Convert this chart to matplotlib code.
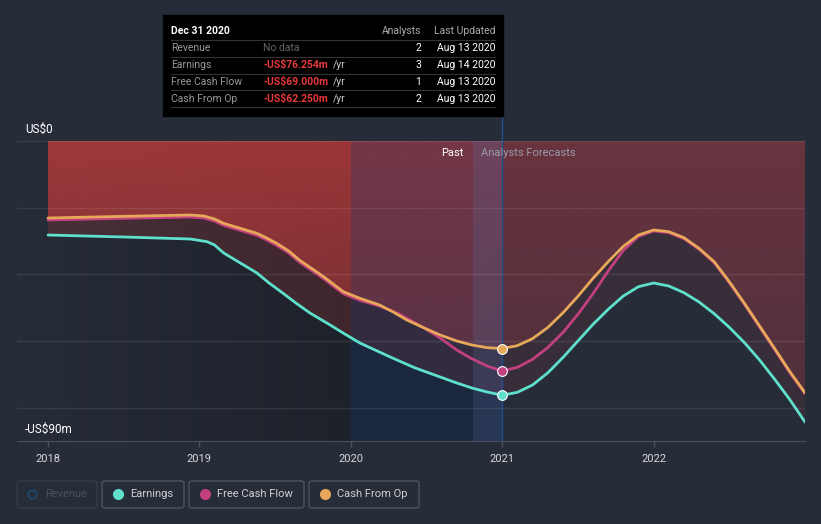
import numpy as np
import matplotlib.pyplot as plt
from matplotlib.patches import FancyBboxPatch
from matplotlib.colors import to_rgb

plt.rcParams['font.family'] = ['Roboto', 'DejaVu Sans']

earn_x = [2018.00, 2018.50, 2018.94, 2019.05, 2019.10, 2019.16, 2019.27, 2019.38, 2019.46,
          2019.55, 2019.64, 2019.73, 2019.86, 2019.96, 2020.06, 2020.16, 2020.26, 2020.42,
          2020.59, 2020.70, 2020.80, 2020.90, 2021.00,
          2021.10, 2021.20, 2021.30, 2021.40, 2021.50, 2021.60, 2021.70, 2021.80, 2021.90,
          2022.00, 2022.10, 2022.20, 2022.30, 2022.40, 2022.50, 2022.60, 2022.70, 2022.80,
          2022.90, 2023.00]
earn_y = [-28.2, -28.8, -29.4, -30.2, -31.2, -33.6, -36.6, -39.6, -42.6,
          -45.6, -48.7, -51.6, -55.1, -57.9, -60.6, -62.7, -64.8, -68.0,
          -70.8, -72.6, -74.1, -75.3, -76.254,
          -75.4, -73.2, -69.6, -65.0, -60.0, -55.0, -50.5, -46.5, -43.7,
          -42.6, -43.5, -45.5, -48.3, -51.8, -55.9, -60.5, -65.7, -71.5,
          -77.6, -84.3]

cfo_x = [2018.00, 2018.50, 2018.94, 2019.03, 2019.10, 2019.16, 2019.27, 2019.38, 2019.44,
         2019.51, 2019.59, 2019.66, 2019.74, 2019.82, 2019.95, 2020.06, 2020.19, 2020.28,
         2020.37, 2020.48, 2020.59, 2020.70, 2020.80, 2020.90, 2021.00,
         2021.10, 2021.20, 2021.30, 2021.40, 2021.50, 2021.60, 2021.70, 2021.80, 2021.90,
         2022.00, 2022.10, 2022.20, 2022.30, 2022.40, 2022.50, 2022.60, 2022.70, 2022.80,
         2022.90, 2023.00]
cfo_y = [-23.1, -22.6, -22.2, -22.5, -23.4, -24.7, -26.2, -27.7, -29.0,
         -30.7, -33.0, -35.7, -38.2, -40.7, -45.2, -47.2, -49.2, -51.3,
         -53.7, -56.0, -58.2, -60.0, -61.2, -62.0, -62.25,
         -61.4, -59.3, -56.0, -51.6, -46.6, -41.2, -36.2, -31.6, -28.2,
         -26.7, -27.2, -29.0, -32.2, -36.2, -42.2, -48.7, -55.5, -62.3,
         -69.2, -75.5]

fcf_x = [2018.00, 2018.50, 2018.94, 2019.03, 2019.10, 2019.16, 2019.27, 2019.38, 2019.44,
         2019.51, 2019.59, 2019.66, 2019.74, 2019.82, 2019.95, 2020.06, 2020.19, 2020.32,
         2020.47, 2020.59, 2020.70, 2020.79, 2020.90, 2021.00,
         2021.10, 2021.20, 2021.30, 2021.40, 2021.50, 2021.60, 2021.70, 2021.80, 2021.90,
         2022.00, 2022.10, 2022.20, 2022.30, 2022.40, 2022.50, 2022.60, 2022.70, 2022.80,
         2022.90, 2023.00]
fcf_y = [-23.7, -23.2, -22.8, -23.1, -24.0, -25.3, -26.8, -28.3, -29.6,
         -31.3, -33.6, -36.3, -38.8, -41.3, -45.8, -47.8, -49.5, -51.9,
         -55.7, -59.1, -62.7, -65.1, -67.5, -69.0,
         -67.9, -65.5, -62.0, -57.5, -52.0, -45.8, -39.0, -32.8, -28.6,
         -27.0, -27.5, -29.3, -32.5, -36.5, -42.5, -49.0, -55.8, -62.6,
         -69.5, -75.8]

years = [2018, 2019, 2020, 2021, 2022]

tip_rows = ['Revenue', 'Earnings', 'Free Cash Flow', 'Cash From Op']
tip_values = ['No data', '-US$76.254m', '-US$69.000m', '-US$62.250m']
tip_analysts = ['2', '3', '1', '2']
tip_updated = ['Aug 13 2020', 'Aug 14 2020', 'Aug 13 2020', 'Aug 13 2020']

BG = '#262c38'
C_EARN = '#5ee0cc'
C_FCF = '#c2407f'
C_CFO = '#e8a85a'
RED = '#c03c3c'


def gradient(ax, extent, color, a0, a1, vertical=True, clip=None, z=1):
    n = 256
    rgb = to_rgb(color)
    if vertical:
        arr = np.zeros((n, 1, 4))
        arr[:, 0, :3] = rgb
        arr[:, 0, 3] = np.linspace(a0, a1, n)
    else:
        arr = np.zeros((1, n, 4))
        arr[0, :, :3] = rgb
        arr[0, :, 3] = np.linspace(a0, a1, n)
    im = ax.imshow(arr, extent=extent, aspect='auto', origin='upper',
                   interpolation='bilinear', zorder=z)
    if clip is not None:
        im.set_clip_path(clip, transform=ax.transData)
    return im


def band(ax, xa, ya, xb, yb, lo, hi, **kw):
    # polygon between two lines over [lo, hi]
    xa, ya, xb, yb = map(np.asarray, (xa, ya, xb, yb))
    ma = (xa >= lo) & (xa <= hi)
    mb = (xb >= lo) & (xb <= hi)
    px = np.concatenate([xa[ma], xb[mb][::-1]])
    py = np.concatenate([ya[ma], yb[mb][::-1]])
    return ax.fill(px, py, **kw)


fig = plt.figure(figsize=(8.21, 5.24), dpi=100, facecolor=BG)
ax = fig.add_axes([17 / 821, 1 - 441 / 524, 788 / 821, 300 / 524])
ax.set_facecolor(BG)
ax.set_xlim(2017.795, 2023.0)
ax.set_ylim(-90, 0)

# darker past background
gradient(ax, [2017.795, 2020, -90, 0], '#000000', 0.0, 0.25, vertical=False, z=0.5)
ax.axvspan(2020, 2021, color='#000000', alpha=0.25, lw=0, zorder=0.5)

# red fills from zero down to the top line
cx = np.array(cfo_x)
cy = np.array(cfo_y)
past = cx <= 2021
fut = cx >= 2021
p1 = ax.fill_between(cx[past], cy[past], 0, facecolor='none', edgecolor='none')
gradient(ax, [2018, 2021, -65, 0], RED, 0.78, 0.55, clip=p1.get_paths()[0], z=1)
p2 = ax.fill_between(cx[fut], cy[fut], 0, facecolor='none', edgecolor='none')
gradient(ax, [2021, 2023, -80, 0], '#a03a45', 0.55, 0.35, clip=p2.get_paths()[0], z=1)

# fill between top and bottom line
band(ax, cfo_x, cfo_y, earn_x, earn_y, 2018, 2021, color=RED, alpha=0.22, lw=0, zorder=1)
band(ax, cfo_x, cfo_y, earn_x, earn_y, 2021, 2023, color='#a03a45', alpha=0.15, lw=0, zorder=1)

# past highlight bands
ax.axvspan(2020, 2021, color='#1a3a6e', alpha=0.3, lw=0, zorder=1.5)
ax.axvspan(2020.805, 2021, color='#5a74a8', alpha=0.22, lw=0, zorder=1.6)
ax.axvline(2021, ymin=0, ymax=1.085, color='#1f4f8f', lw=1, zorder=1.7, clip_on=False)

# grid
for g in [0, -20, -40, -60, -80]:
    ax.axhline(g, color='white', alpha=0.09, lw=1, zorder=1.8)

ax.plot(fcf_x, fcf_y, color=C_FCF, lw=2, zorder=3, solid_capstyle='round', solid_joinstyle='round')
ax.plot(cfo_x, cfo_y, color=C_CFO, lw=2, zorder=4, solid_capstyle='round', solid_joinstyle='round')
ax.plot(earn_x, earn_y, color=C_EARN, lw=2, zorder=3, solid_capstyle='round', solid_joinstyle='round')

for c, v in [(C_CFO, -62.25), (C_FCF, -69.0), (C_EARN, -76.254)]:
    ax.plot([2021], [v], 'o', ms=7, color=c, mec='white', mew=0.8, zorder=5)

for s in ['top', 'left', 'right']:
    ax.spines[s].set_visible(False)
ax.spines['bottom'].set_color('#4a515c')
ax.set_yticks([])
ax.set_xticks(years)
ax.set_xticklabels([str(y) for y in years])
ax.tick_params(axis='x', colors='#4a515c', labelcolor='#d8d8d8', labelsize=8,
               length=4, width=1, pad=5)

fig.text(25 / 821, 1 - 129 / 524, 'US$0', color='white', fontsize=8.5, va='center')
fig.text(25 / 821, 1 - 429 / 524, '-US$90m', color='white', fontsize=8.5, va='center')
fig.text(464 / 821, 1 - 153 / 524, 'Past', color='white', fontsize=8, va='center', ha='right')
fig.text(481 / 821, 1 - 153 / 524, 'Analysts Forecasts', color='#9a9aa8', fontsize=8, va='center')

# tooltip
fig.patches.append(plt.Rectangle((163 / 821, 1 - 116 / 524), 340 / 821, 101 / 524,
                                 transform=fig.transFigure, color='black', zorder=10))
fy = lambda py: 1 - py / 524
fx = lambda px: px / 821
fig.text(fx(171), fy(31), 'Dec 31 2020', color='white', fontsize=7.5, fontweight='bold',
         va='center', zorder=11)
fig.text(fx(421), fy(31), 'Analysts', color='#aaaaaa', fontsize=7.5, va='center', ha='right', zorder=11)
fig.text(fx(495), fy(31), 'Last Updated', color='#aaaaaa', fontsize=7.5, va='center', ha='right', zorder=11)
for i, name in enumerate(tip_rows):
    py = 48 + 17 * i
    ln = plt.Line2D([fx(171), fx(495)], [fy(py - 8.5), fy(py - 8.5)], transform=fig.transFigure,
                    color='#333333', lw=0.8, zorder=11)
    fig.lines.append(ln)
    fig.text(fx(171), fy(py), name, color='#9a9a9a', fontsize=7.5, va='center', zorder=11)
    if tip_values[i] == 'No data':
        fig.text(fx(263), fy(py), tip_values[i], color='#666666', fontsize=7.5, va='center', zorder=11)
    else:
        fig.text(fx(263), fy(py), tip_values[i], color='#e8383b', fontsize=7.5, va='center',
                 fontweight='bold', zorder=11)
        fig.text(fx(333), fy(py), '/yr', color='#cccccc', fontsize=7.5, va='center', zorder=11)
    fig.text(fx(421), fy(py), tip_analysts[i], color='white', fontsize=7.5, va='center', ha='right', zorder=11)
    fig.text(fx(495), fy(py), tip_updated[i], color='white', fontsize=7.5, va='center', ha='right', zorder=11)
fig.lines.append(plt.Line2D([fx(171), fx(495)], [fy(107), fy(107)], transform=fig.transFigure,
                            color='#333333', lw=0.8, zorder=11))

# legend boxes
legend = [('Revenue', 17, 97, '#1f4a70', True), ('Earnings', 102, 184, C_EARN, False),
          ('Free Cash Flow', 189, 304, C_FCF, False), ('Cash From Op', 309, 419, C_CFO, False)]
for name, x0, x1, col, dim in legend:
    box = FancyBboxPatch((fx(x0), fy(508)), fx(x1 - x0), 27 / 524,
                         boxstyle='round,pad=0,rounding_size=0.004', transform=fig.transFigure,
                         facecolor='none', edgecolor='#343b47' if dim else '#4e5562', lw=1)
    fig.patches.append(box)
    if dim:
        fig.lines.append(plt.Line2D([fx(x0 + 15)], [fy(494)], marker='o', ms=6, mfc='none',
                                    mec=col, mew=1.2, transform=fig.transFigure))
    else:
        fig.lines.append(plt.Line2D([fx(x0 + 16)], [fy(494)], marker='o', ms=7, mfc=col,
                                    mec=col, transform=fig.transFigure))
    fig.text(fx(x0 + 28), fy(494), name, color='#4a5260' if dim else '#d0d0d0',
             fontsize=8, va='center')

fig.savefig('out.png', dpi=100, facecolor=BG)
